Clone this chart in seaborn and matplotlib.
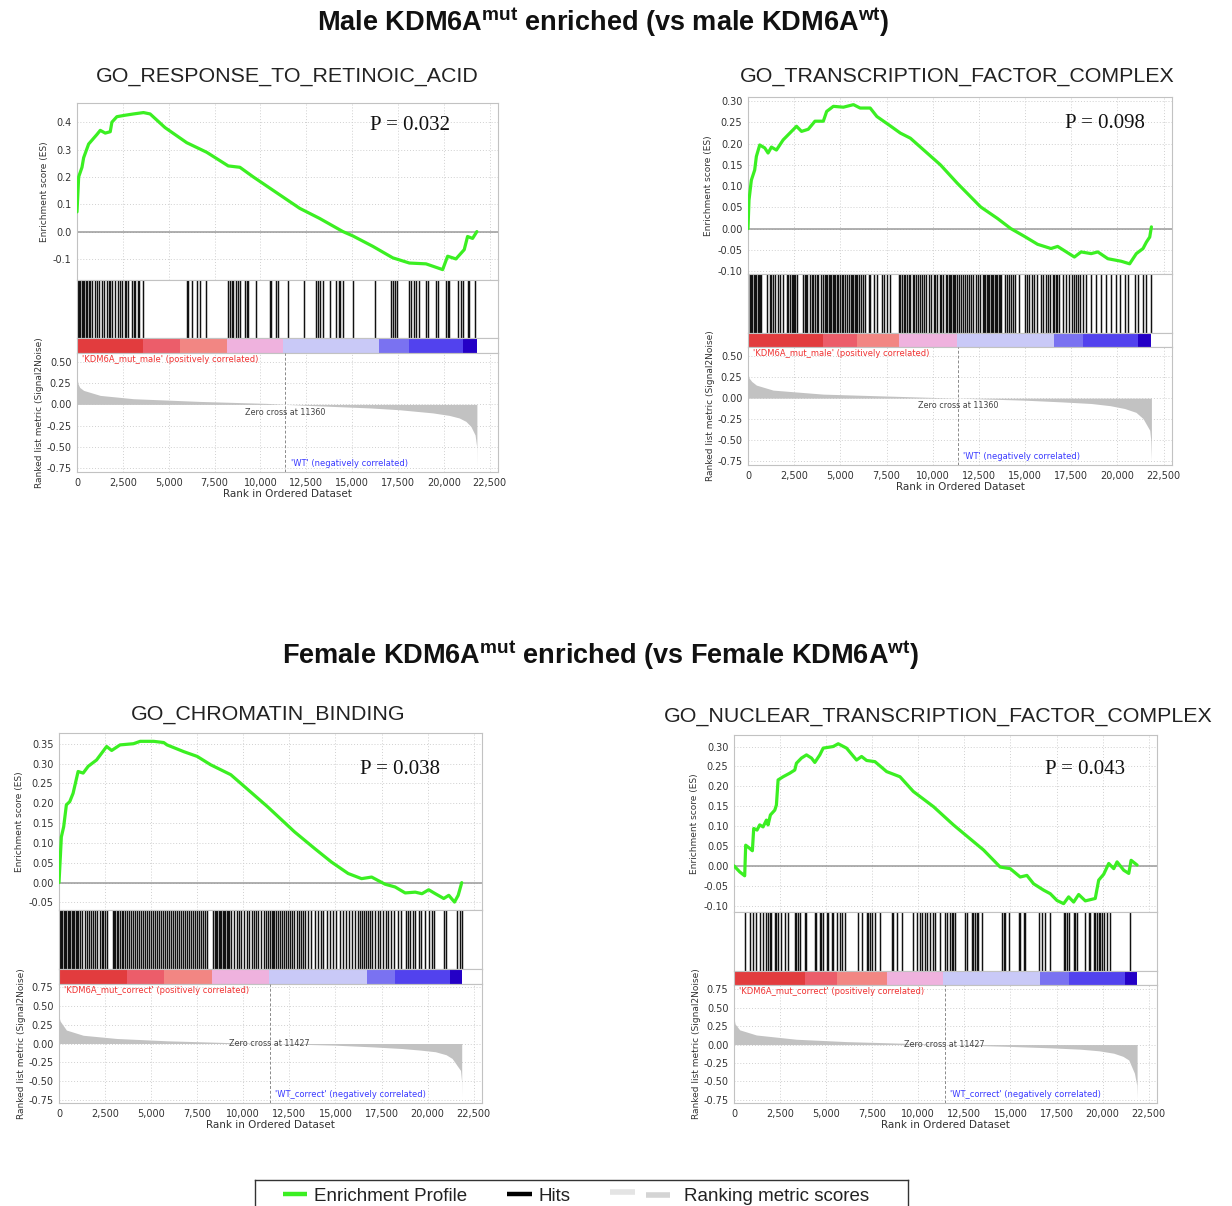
import numpy as np
import pandas as pd
import matplotlib
matplotlib.use("Agg")
import matplotlib.pyplot as plt
from matplotlib.lines import Line2D
from matplotlib.legend_handler import HandlerBase
from matplotlib.ticker import FuncFormatter, FormatStrFormatter
import seaborn as sns

# ------------------------------------------------------------------ data
heading_male = r"Male KDM6A$^{\mathbf{mut}}$ enriched (vs male KDM6A$^{\mathbf{wt}}$)"
heading_female = r"Female KDM6A$^{\mathbf{mut}}$ enriched (vs Female KDM6A$^{\mathbf{wt}}$)"

titles = ["GO_RESPONSE_TO_RETINOIC_ACID", "GO_TRANSCRIPTION_FACTOR_COMPLEX",
          "GO_CHROMATIN_BINDING", "GO_NUCLEAR_TRANSCRIPTION_FACTOR_COMPLEX"]
p_values = ["0.032", "0.098", "0.038", "0.043"]
pos_labels = ["'KDM6A_mut_male' (positively correlated)", "'KDM6A_mut_male' (positively correlated)",
              "'KDM6A_mut_correct' (positively correlated)", "'KDM6A_mut_correct' (positively correlated)"]
neg_labels = ["'WT' (negatively correlated)", "'WT' (negatively correlated)",
              "'WT_correct' (negatively correlated)", "'WT_correct' (negatively correlated)"]
zero_cross = [11360, 11360, 11427, 11427]
rank_ticks = [0, 2500, 5000, 7500, 10000, 12500, 15000, 17500, 20000, 22500]
legend_labels = ["Enrichment Profile", "Hits", "Ranking metric scores"]

# --- panel 1 : GO_RESPONSE_TO_RETINOIC_ACID
tl_es_rank = [0, 91, 272, 362, 634, 1087, 1268, 1540, 1812, 1903, 2174, 2600, 3080, 3624, 3986, 4800,
              5980, 7067, 8245, 8879, 9604, 12140, 13228, 14496, 15040, 16127, 17214, 18120, 19026,
              19932, 20204, 20657, 21110, 21291, 21563, 21798]
tl_es_score = [0.072, 0.2, 0.235, 0.27, 0.32, 0.355, 0.37, 0.36, 0.365, 0.40, 0.42, 0.425, 0.43, 0.435,
               0.43, 0.38, 0.325, 0.29, 0.24, 0.235, 0.2, 0.085, 0.048, 0.0, -0.016, -0.054, -0.096,
               -0.115, -0.118, -0.139, -0.09, -0.1, -0.066, -0.018, -0.025, 0.0]
tl_hits = [36, 109, 181, 254, 326, 399, 471, 544, 634, 700, 815, 1000, 1087, 1200, 1359, 1450, 1631,
           1721, 1800, 1903, 2050, 2211, 2319, 2450, 2591, 2682, 2800, 2990, 3080, 3171, 3300, 3407,
           3624, 5980, 6070, 6251, 6523, 6704, 7031, 8245, 8335, 8426, 8516, 8661, 8788, 8879, 9151,
           9241, 9332, 9748, 10510, 10600, 10872, 10963, 11506, 12358, 13010, 13137, 13264, 13409,
           13771, 14134, 14279, 14351, 14496, 15040, 16272, 17123, 17214, 17359, 17431, 18120, 18211,
           18392, 18482, 18664, 19026, 19117, 19570, 19660, 20113, 20204, 20294, 20747, 20929, 21019,
           21291, 21345, 21708]
tl_metric_rank = [0, 60, 150, 362, 1268, 3080, 6704, 10328, 11360, 13952, 16000, 17576, 19388, 20300,
                  20838, 21200, 21472, 21700, 21790, 21800]
tl_metric_value = [0.31, 0.24, 0.2, 0.165, 0.106, 0.067, 0.035, 0.012, 0.0, -0.024, -0.042, -0.063,
                   -0.1, -0.13, -0.16, -0.2, -0.26, -0.36, -0.5, -0.74]
tl_bar_edges = [0, 3624, 5617, 8154, 11234, 16489, 18120, 21019, 21798]

# --- panel 2 : GO_TRANSCRIPTION_FACTOR_COMPLEX
tr_es_rank = [0, 54, 181, 362, 453, 634, 906, 1087, 1268, 1540, 1903, 2265, 2627, 2899, 3262, 3624,
              4077, 4258, 4620, 5164, 5708, 6070, 6614, 6976, 7701, 8245, 8788, 9513, 10419, 11325,
              12593, 13499, 14224, 14949, 15674, 16399, 16761, 17667, 18029, 18573, 18935, 19479,
              20204, 20657, 21019, 21382, 21563, 21744, 21835]
tr_es_score = [0.0, 0.067, 0.114, 0.138, 0.17, 0.197, 0.19, 0.178, 0.192, 0.185, 0.209, 0.225, 0.241,
               0.229, 0.234, 0.253, 0.253, 0.276, 0.288, 0.286, 0.292, 0.284, 0.284, 0.264, 0.242,
               0.225, 0.213, 0.185, 0.15, 0.107, 0.051, 0.024, 0.0, -0.018, -0.037, -0.047, -0.042,
               -0.067, -0.055, -0.059, -0.055, -0.071, -0.077, -0.083, -0.059, -0.047, -0.032, -0.02,
               0.004]
tr_hits = [18, 91, 163, 236, 308, 381, 453, 525, 598, 670, 725, 1033, 1178, 1268, 1359, 1450, 1631,
           1721, 1903, 2084, 2174, 2265, 2356, 2410, 2482, 2555, 2627, 2990, 3062, 3135, 3207, 3352,
           3443, 3533, 3624, 3715, 3805, 3932, 4077, 4149, 4222, 4294, 4367, 4439, 4512, 4584, 4657,
           4729, 4802, 4892, 4983, 5074, 5164, 5255, 5345, 5490, 5563, 5635, 5708, 5780, 5853, 5925,
           5998, 6106, 6215, 6342, 6523, 6614, 6795, 6976, 7248, 7339, 7520, 7701, 8154, 8245, 8335,
           8426, 8516, 8607, 8697, 8788, 8933, 9005, 9078, 9187, 9295, 9404, 9513, 9658, 9785, 9912,
           10057, 10147, 10238, 10383, 10455, 10564, 10709, 10781, 10854, 10926, 10999, 11071, 11144,
           11216, 11289, 11434, 11542, 11651, 11760, 11869, 11977, 12086, 12195, 12322, 12448, 12557,
           12702, 12774, 12847, 12919, 12992, 13064, 13137, 13209, 13282, 13354, 13427, 13499, 13572,
           13644, 13717, 13898, 14007, 14115, 14224, 14333, 14441, 14677, 14985, 15094, 15221, 15347,
           15492, 15637, 15855, 15963, 16145, 16254, 16363, 16508, 16580, 16653, 16725, 16852, 17033,
           17214, 17395, 17522, 17631, 17758, 17884, 17993, 18120, 18301, 18573, 18845, 19117, 19388,
           19660, 19932, 20113, 20385, 20567, 20929, 21110, 21382, 21563, 21835]
tr_metric_rank = [0, 60, 200, 453, 1359, 4077, 7701, 11325, 14949, 17000, 18573, 19600, 20385, 21000,
                  21382, 21744, 21800, 21835]
tr_metric_value = [0.296, 0.24, 0.2, 0.156, 0.096, 0.048, 0.024, 0.0, -0.024, -0.045, -0.064, -0.09,
                   -0.124, -0.17, -0.244, -0.384, -0.5, -0.744]
tr_bar_edges = [0, 4077, 5889, 8154, 11325, 16580, 18120, 21110, 21835]

# --- panel 3 : GO_CHROMATIN_BINDING
bl_es_rank = [0, 73, 127, 255, 400, 582, 764, 1037, 1310, 1583, 2038, 2311, 2584, 2858, 3312, 4040,
              4404, 5132, 5678, 5860, 6770, 7498, 8226, 9318, 9864, 11320, 12776, 13868, 14778,
              15688, 16416, 16962, 17690, 18236, 18782, 19328, 19692, 20056, 20420, 20875, 21148,
              21458, 21658, 21785, 21850]
bl_es_score = [0.0, 0.065, 0.115, 0.141, 0.196, 0.204, 0.225, 0.28, 0.276, 0.293, 0.309, 0.326, 0.343,
               0.333, 0.347, 0.35, 0.356, 0.356, 0.353, 0.347, 0.33, 0.318, 0.297, 0.272, 0.25, 0.191,
               0.128, 0.086, 0.052, 0.023, 0.01, 0.014, -0.004, -0.011, -0.026, -0.024, -0.028,
               -0.018, -0.028, -0.04, -0.032, -0.049, -0.032, -0.011, 0.0]
bl_hits = [36, 109, 182, 255, 328, 400, 473, 546, 619, 692, 764, 837, 910, 983, 1056, 1128, 1274, 1401,
           1529, 1638, 1711, 1856, 1947, 2075, 2220, 2311, 2402, 2512, 2584, 2912, 2985, 3058, 3130,
           3221, 3312, 3403, 3494, 3585, 3676, 3786, 3895, 4004, 4113, 4222, 4332, 4441, 4550, 4659,
           4768, 4878, 4987, 5096, 5205, 5314, 5424, 5533, 5642, 5751, 5860, 5970, 6079, 6188, 6297,
           6406, 6516, 6625, 6734, 6843, 6952, 7062, 7171, 7280, 7389, 7498, 7608, 7717, 7826, 7935,
           8044, 8372, 8445, 8518, 8590, 8663, 8736, 8809, 8882, 8954, 9027, 9100, 9173, 9246, 9318,
           9500, 9646, 9792, 9901, 10046, 10192, 10301, 10447, 10556, 10702, 10811, 10956, 11102,
           11248, 11320, 11466, 11539, 11612, 11684, 11794, 11903, 12012, 12121, 12230, 12340, 12449,
           12558, 12667, 12776, 12886, 12995, 13104, 13213, 13359, 13504, 13686, 13868, 14050, 14196,
           14342, 14524, 14706, 14869, 15051, 15233, 15415, 15597, 15725, 15870, 16052, 16198, 16344,
           16453, 16562, 16671, 16780, 16890, 16999, 17144, 17290, 17436, 17581, 17727, 17872, 18018,
           18200, 18382, 18564, 18819, 18928, 19037, 19183, 19328, 19510, 19656, 19838, 20056, 20238,
           20348, 20875, 21003, 21603, 21731, 21840]
bl_metric_rank = [0, 60, 200, 400, 1310, 3130, 5860, 9500, 11427, 14960, 17000, 18600, 19600, 20420,
                  21000, 21330, 21785, 21840, 21850]
bl_metric_value = [0.357, 0.3, 0.25, 0.18, 0.11, 0.067, 0.036, 0.01, 0.0, -0.022, -0.045, -0.067,
                   -0.088, -0.11, -0.15, -0.2, -0.36, -0.5, -0.71]
bl_bar_edges = [0, 3676, 5678, 8317, 11411, 16689, 18236, 21239, 21850]

# --- panel 4 : GO_NUCLEAR_TRANSCRIPTION_FACTOR_COMPLEX
br_es_rank = [0, 308, 580, 634, 852, 997, 1069, 1250, 1395, 1577, 1758, 1848, 1975, 2211, 2301, 2392,
              2664, 3026, 3298, 3388, 3660, 3932, 4204, 4385, 4657, 4838, 5382, 5654, 6106, 6650,
              6922, 7194, 7647, 8281, 9006, 9730, 10818, 11905, 12992, 13536, 14442, 14985, 15529,
              15891, 16254, 16797, 17160, 17522, 17884, 18156, 18428, 18700, 19062, 19600, 19786,
              20059, 20331, 20603, 20784, 21146, 21418, 21545, 21871]
br_es_score = [0.0, -0.015, -0.025, 0.052, 0.044, 0.038, 0.094, 0.09, 0.103, 0.098, 0.115, 0.103,
               0.128, 0.14, 0.153, 0.216, 0.224, 0.233, 0.241, 0.258, 0.271, 0.279, 0.271, 0.26, 0.279,
               0.296, 0.3, 0.307, 0.296, 0.266, 0.275, 0.265, 0.262, 0.237, 0.224, 0.187, 0.149, 0.103,
               0.061, 0.04, -0.003, -0.007, -0.028, -0.024, -0.045, -0.061, -0.07, -0.087, -0.095,
               -0.078, -0.091, -0.072, -0.088, -0.082, -0.036, -0.021, 0.006, -0.007, 0.01, -0.011,
               -0.019, 0.014, 0.002]
br_hits = [580, 852, 1033, 1214, 1395, 1576, 1721, 1848, 1939, 2029, 2211, 2301, 2392, 2573, 2754,
           2935, 3298, 3388, 3479, 3570, 3842, 3932, 4385, 4476, 4657, 4747, 4838, 5019, 5110, 5291,
           5382, 5563, 5744, 5835, 6016, 6741, 6922, 7194, 7284, 7375, 7466, 7647, 7918, 8553, 8643,
           8824, 9096, 9730, 9912, 10093, 10183, 10365, 10455, 10636, 10818, 10908, 11180, 11452,
           11542, 11724, 11814, 11905, 11995, 12539, 12629, 12901, 12992, 13083, 13173, 13264, 13445,
           14532, 14623, 14713, 14895, 15438, 15529, 15710, 15801, 16525, 16706, 16888, 17160, 17884,
           17975, 18065, 18156, 18428, 18519, 18610, 19062, 19243, 19334, 19515, 19606, 19696, 19787,
           19878, 19968, 20059, 20240, 20421, 21508]
br_metric_rank = [0, 60, 308, 1214, 3388, 6106, 9730, 11427, 15166, 17200, 18791, 19800, 20603, 21100,
                  21418, 21726, 21850, 21871]
br_metric_value = [0.357, 0.28, 0.2, 0.13, 0.072, 0.04, 0.014, 0.0, -0.027, -0.045, -0.063, -0.085,
                   -0.118, -0.16, -0.21, -0.39, -0.55, -0.73]
br_bar_edges = [0, 3842, 5563, 8281, 11361, 16616, 18156, 21236, 21871]

# ------------------------------------------------------------------ style / layout
GREEN = "#3bef22"
BAR_COLORS = ["#e23c3e", "#ec5d6a", "#f28683", "#efb2de", "#c9c9f7", "#7a72f1", "#5242ee", "#2400c6"]
W, H = 1232, 1206
XMAX = 22950

LAYOUT = [
    dict(left=77, right=498, es=(103, 280), hits=(280, 338), bar=(338, 353), metric=(353, 472),
         title=(287, 77), pval=(410, 126), es_ylim=(-0.177, 0.47), es_ticks=np.arange(-0.1, 0.41, 0.1),
         es_fmt="%.1f", m_ylim=(-0.797, 0.606), m_ticks=np.arange(-0.75, 0.51, 0.25), zc_y=-0.10),
    dict(left=748, right=1172, es=(97, 274), hits=(274, 333), bar=(333, 347), metric=(347, 465),
         title=(957, 76), pval=(1105, 124), es_ylim=(-0.107, 0.31), es_ticks=np.arange(-0.10, 0.31, 0.05),
         es_fmt="%.2f", m_ylim=(-0.80, 0.612), m_ticks=np.arange(-0.75, 0.51, 0.25), zc_y=-0.09),
    dict(left=59, right=482, es=(733, 910), hits=(910, 969), bar=(969, 984), metric=(984, 1103),
         title=(268, 715), pval=(400, 770), es_ylim=(-0.069, 0.377), es_ticks=np.arange(-0.05, 0.36, 0.05),
         es_fmt="%.2f", m_ylim=(-0.795, 0.795), m_ticks=np.arange(-0.75, 0.76, 0.25), zc_y=0.0),
    dict(left=734, right=1157, es=(735, 912), hits=(912, 971), bar=(971, 985), metric=(985, 1103),
         title=(938, 717), pval=(1085, 770), es_ylim=(-0.116, 0.329), es_ticks=np.arange(-0.10, 0.31, 0.05),
         es_fmt="%.2f", m_ylim=(-0.795, 0.81), m_ticks=np.arange(-0.75, 0.76, 0.25), zc_y=0.0),
]

PANELS = [
    dict(es_rank=tl_es_rank, es_score=tl_es_score, hits=tl_hits, m_rank=tl_metric_rank,
         m_val=tl_metric_value, edges=tl_bar_edges),
    dict(es_rank=tr_es_rank, es_score=tr_es_score, hits=tr_hits, m_rank=tr_metric_rank,
         m_val=tr_metric_value, edges=tr_bar_edges),
    dict(es_rank=bl_es_rank, es_score=bl_es_score, hits=bl_hits, m_rank=bl_metric_rank,
         m_val=bl_metric_value, edges=bl_bar_edges),
    dict(es_rank=br_es_rank, es_score=br_es_score, hits=br_hits, m_rank=br_metric_rank,
         m_val=br_metric_value, edges=br_bar_edges),
]

sns.set_theme(style="white")
plt.rcParams["font.family"] = ["DejaVu Sans"]
plt.rcParams["mathtext.fontset"] = "custom"
plt.rcParams["mathtext.rm"] = "Liberation Sans"
plt.rcParams["mathtext.bf"] = "Liberation Sans:bold"

fig = plt.figure(figsize=(W / 100, H / 100), dpi=100)
fig.patch.set_facecolor("white")


def box(left, right, top, bottom):
    return [left / W, 1 - bottom / H, (right - left) / W, (bottom - top) / H]


def style_spines(ax):
    for s in ax.spines.values():
        s.set_color("#c2c2c2")
        s.set_linewidth(0.8)


GRID = dict(color="#d0d0d0", ls=(0, (1, 2)), lw=0.7)
TICK = dict(length=2, width=0.6, color="#999999", labelsize=7, labelcolor="#333333", pad=2)

for i in range(4):
    g = LAYOUT[i]
    d = PANELS[i]
    L, R = g["left"], g["right"]

    # enrichment score
    ax = fig.add_axes(box(L, R, *g["es"]))
    df = pd.DataFrame({"rank": d["es_rank"], "es": d["es_score"]})
    ax.axhline(0, color="#9a9a9a", lw=1.1, zorder=1)
    sns.lineplot(data=df, x="rank", y="es", ax=ax, color=GREEN, linewidth=2.3,
                 estimator=None, sort=False, zorder=3)
    ax.set_xlim(0, XMAX)
    ax.set_ylim(*g["es_ylim"])
    ax.set_xticks(rank_ticks)
    ax.set_xticklabels([])
    ax.set_yticks(g["es_ticks"])
    ax.yaxis.set_major_formatter(FormatStrFormatter(g["es_fmt"]))
    ax.grid(True, **GRID)
    ax.set_xlabel("")
    ax.set_ylabel("Enrichment score (ES)", fontsize=6.5, color="#333333", labelpad=3)
    ax.tick_params(axis="x", length=0)
    ax.tick_params(axis="y", **TICK)
    style_spines(ax)

    # hits
    hx = fig.add_axes(box(L, R, *g["hits"]))
    hx.vlines(d["hits"], 0, 1, color="#111111", lw=1.05)
    hx.set_xlim(0, XMAX)
    hx.set_ylim(0, 1)
    hx.set_xticks([])
    hx.set_yticks([])
    style_spines(hx)

    # colour bar of ranked list
    cx = fig.add_axes(box(L, R, *g["bar"]))
    edges = np.array(d["edges"])
    cx.bar(edges[:-1], 1, width=np.diff(edges), align="edge", color=BAR_COLORS, linewidth=0)
    cx.set_xlim(0, XMAX)
    cx.set_ylim(0, 1)
    cx.set_xticks([])
    cx.set_yticks([])
    style_spines(cx)

    # ranked list metric
    mx = fig.add_axes(box(L, R, *g["metric"]))
    mx.fill_between(d["m_rank"], d["m_val"], 0, color="#c2c2c2", lw=0, zorder=2)
    mx.axvline(zero_cross[i], color="#8a8a8a", lw=0.7, ls=(0, (3, 2)), zorder=3)
    mx.set_xlim(0, XMAX)
    mx.set_ylim(*g["m_ylim"])
    mx.set_xticks(rank_ticks)
    mx.xaxis.set_major_formatter(FuncFormatter(lambda v, p: f"{int(round(v)):,}"))
    mx.set_yticks(g["m_ticks"])
    mx.yaxis.set_major_formatter(FormatStrFormatter("%.2f"))
    mx.grid(True, **GRID)
    mx.tick_params(axis="both", **TICK)
    mx.set_xlabel("Rank in Ordered Dataset", fontsize=7.5, color="#333333", labelpad=1)
    mx.set_ylabel("Ranked list metric (Signal2Noise)", fontsize=6.5, color="#333333", labelpad=2)
    style_spines(mx)
    mx.text(0.012, 0.985, pos_labels[i], transform=mx.transAxes, ha="left", va="top",
            fontsize=6, color="#f03232", zorder=5)
    mx.text(zero_cross[i] + 300, 0.075, neg_labels[i], transform=mx.get_xaxis_transform(),
            ha="left", va="center", fontsize=6, color="#3a3aff", zorder=5)
    mx.text(zero_cross[i], g["zc_y"], f"Zero cross at {zero_cross[i]}", ha="center", va="center",
            fontsize=5.8, color="#444444", zorder=5)

    # title and p value
    fig.text(g["title"][0] / W, 1 - g["title"][1] / H, titles[i], ha="center", va="center",
             fontsize=15.4, family="Liberation Sans", color="#222222")
    fig.text(g["pval"][0] / W, 1 - g["pval"][1] / H, f"P = {p_values[i]}", ha="center", va="center",
             fontsize=15, family="Liberation Serif", color="#111111")

fig.text(603 / W, 1 - 22 / H, heading_male, ha="center", va="center", fontsize=19.5,
         fontweight="bold", family="Liberation Sans", color="#111111")
fig.text(601 / W, 1 - 655 / H, heading_female, ha="center", va="center", fontsize=19.5,
         fontweight="bold", family="Liberation Sans", color="#111111")


# legend
class TwoBars(HandlerBase):
    def create_artists(self, legend, orig_handle, xdescent, ydescent, width, height, fontsize, trans):
        y = height / 2 - ydescent
        a = Line2D([-xdescent, -xdescent + width], [y + 1.5, y + 1.5], color="#e4e4e4", lw=4,
                   solid_capstyle="butt", transform=trans)
        b = Line2D([-xdescent + width + 8, -xdescent + width + 25], [y - 1, y - 1], color="#d4d4d4",
                   lw=4, solid_capstyle="butt", transform=trans)
        return [a, b]


lax = fig.add_axes(box(255, 908, 1180, 1220))
lax.set_xticks([])
lax.set_yticks([])
for s in lax.spines.values():
    s.set_color("#333333")
    s.set_linewidth(1.0)

handles = [Line2D([], [], color=GREEN, lw=3.2, solid_capstyle="butt"),
           Line2D([], [], color="black", lw=3.2, solid_capstyle="butt"),
           Line2D([], [], color="#d4d4d4", lw=4)]
labels = [legend_labels[0], legend_labels[1], " " * 8 + legend_labels[2]]
leg = lax.legend(handles, labels, ncol=3, loc="upper left", bbox_to_anchor=(20 / 653, 1.0),
                 frameon=False, borderpad=0.4, borderaxespad=0, handlelength=1.33,
                 handletextpad=0.37, columnspacing=2.1,
                 prop={"family": "Liberation Sans", "size": 13.5},
                 handler_map={handles[2]: TwoBars()})
for t in leg.get_texts():
    t.set_color("#222222")

fig.savefig("out.png", dpi=100, facecolor="white")
